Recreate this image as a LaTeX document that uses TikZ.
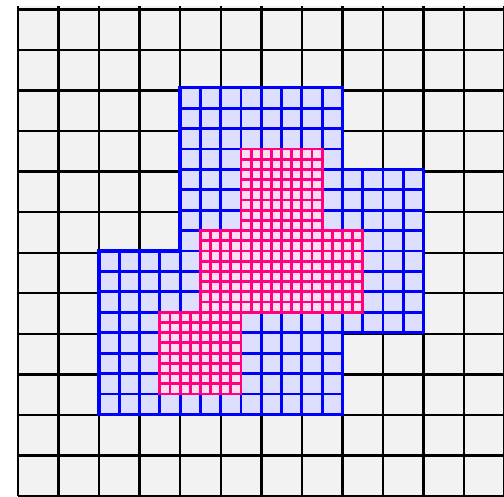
\documentclass[tikz,border=0pt]{standalone}
\usepackage{tikz}
\definecolor{CoarseFill}{RGB}{242,242,242}
\definecolor{FineFill}{RGB}{222,222,255}
\definecolor{FineLine}{RGB}{0,0,255}
\definecolor{FinerFill}{RGB}{255,221,238}
\definecolor{FinerLine}{RGB}{255,0,128}

\begin{document}
\begin{tikzpicture}[
  x=1cm, y=1.007cm,
  coarse/.style={draw=black, line width=1.7pt},
  fine/.style={draw=FineLine, line width=2pt},
  finer/.style={draw=FinerLine, line width=2pt}
]
\useasboundingbox (-0.443,-0.01) rectangle (11.985,12.147);
% coarse level
\fill[CoarseFill] (0,0) rectangle (12,12);
\draw[coarse] (0,0) grid (12,12);
% first refinement level
\fill[FineFill] (4,10) -- (8,10) -- (8,8) -- (10,8) -- (10,4) -- (8,4) -- (8,2) -- (2,2) -- (2,6) -- (4,6) -- cycle;
\begin{scope}
  \clip (4,10) -- (8,10) -- (8,8) -- (10,8) -- (10,4) -- (8,4) -- (8,2) -- (2,2) -- (2,6) -- (4,6) -- cycle;
  \draw[fine] (2,2) grid[step=0.5] (10,10);
\end{scope}
\draw[fine, line width=2.4pt] (4,10) -- (8,10) -- (8,8) -- (10,8) -- (10,4) -- (8,4) -- (8,2) -- (2,2) -- (2,6) -- (4,6) -- cycle;
% second refinement level
\foreach \px/\py in {5.5/6.5, 4.5/4.5, 6.5/4.5, 3.5/2.5} {
  \fill[FinerFill] (\px,\py) rectangle ++(2,2);
  \draw[finer] (\px,\py) grid[step=0.25] ++(2,2);
  \draw[finer] (\px,\py) rectangle ++(2,2);
}
\end{tikzpicture}
\end{document}
